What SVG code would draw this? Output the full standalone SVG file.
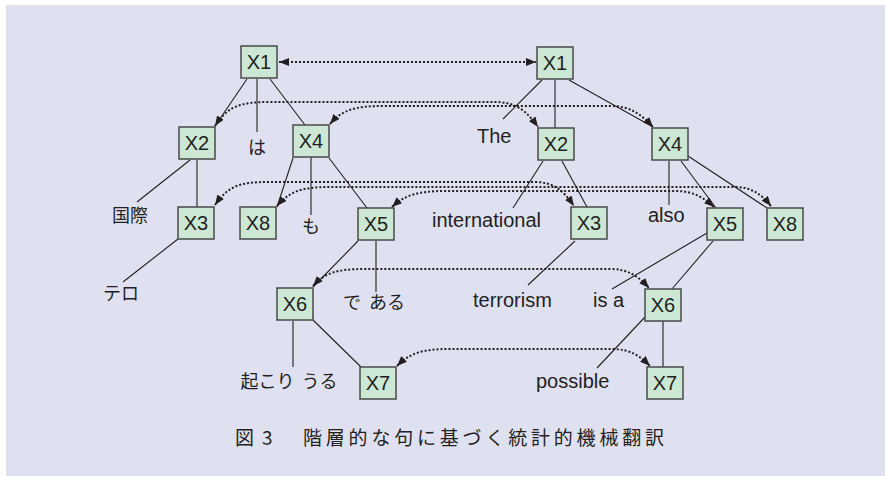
<svg xmlns="http://www.w3.org/2000/svg" width="885" height="477" viewBox="0 0 885 477">
<defs>
<marker id="ah" viewBox="0 0 10 8" refX="10" refY="4" markerWidth="10" markerHeight="8" markerUnits="userSpaceOnUse" orient="auto-start-reverse">
<path d="M0,0 L10,4 L0,8 Z" fill="#231f20"/>
</marker>
<style>
.bg{fill:#e0e1f0}
.box rect{fill:#cce7d4;stroke:#4a4a4a;stroke-width:1.5}
.box text{font-family:"Liberation Sans",Arial,sans-serif;font-size:20px;fill:#231f20;text-anchor:middle}
.ln{stroke:#231f20;stroke-width:1.1;fill:none}
.dt{stroke:#231f20;stroke-width:2;stroke-dasharray:2 2;fill:none;marker-start:url(#ah);marker-end:url(#ah)}
.en{font-family:"Liberation Sans",Arial,sans-serif;font-size:20px;fill:#231f20}
.ja{font-family:"Noto Sans CJK JP","Noto Sans",sans-serif;font-size:18px;fill:#231f20;text-anchor:middle}
.cap{font-family:"Noto Sans CJK JP","Noto Sans",sans-serif;font-size:19px;fill:#231f20}
</style>
</defs>
<rect class="bg" x="6" y="5" width="879" height="471"/>

<g id="connectors">
<g id="tree-lines">
<line class="ln" x1="247" y1="79" x2="215" y2="126"/>
<line class="ln" x1="257" y1="79" x2="257" y2="132"/>
<line class="ln" x1="270" y1="79" x2="305" y2="125"/>
<line class="ln" x1="190" y1="160" x2="137" y2="202"/>
<line class="ln" x1="197" y1="160" x2="197" y2="207"/>
<line class="ln" x1="178" y1="239" x2="123" y2="282"/>
<line class="ln" x1="293" y1="158" x2="277" y2="207"/>
<line class="ln" x1="311" y1="157" x2="311" y2="215"/>
<line class="ln" x1="329" y1="158" x2="367" y2="208"/>
<line class="ln" x1="358" y1="241" x2="313" y2="287"/>
<line class="ln" x1="376" y1="241" x2="376" y2="292"/>
<line class="ln" x1="293" y1="321" x2="293" y2="367"/>
<line class="ln" x1="313" y1="320" x2="361" y2="367"/>
<line class="ln" x1="542" y1="80" x2="503" y2="119"/>
<line class="ln" x1="555" y1="80" x2="555" y2="128"/>
<line class="ln" x1="569" y1="80" x2="653" y2="127"/>
<line class="ln" x1="543" y1="161" x2="513" y2="208"/>
<line class="ln" x1="562" y1="161" x2="587" y2="207"/>
<line class="ln" x1="575" y1="241" x2="528" y2="285"/>
<line class="ln" x1="669" y1="161" x2="669" y2="205"/>
<line class="ln" x1="681" y1="161" x2="716" y2="208"/>
<line class="ln" x1="688" y1="156" x2="767" y2="208"/>
<line class="ln" x1="707" y1="233" x2="612" y2="289"/>
<line class="ln" x1="713" y1="241" x2="672" y2="289"/>
<line class="ln" x1="645" y1="317" x2="597" y2="368"/>
<line class="ln" x1="663" y1="321" x2="663" y2="367"/>
</g>
<g id="alignments">
<path class="dt" d="M279,62 L536,62"/>
<path class="dt" d="M215,126 C228,106 240,102 270,102 L495,102 C515,102 526,110 538,127"/>
<path class="dt" d="M330,124 C343,109 356,106 385,106 L610,106 C630,106 641,114 653,127"/>
<path class="dt" d="M215,205 C228,186 240,182 268,182 L535,182 C553,182 563,190 574,206"/>
<path class="dt" d="M277,206 C290,191 302,187 330,187 L735,187 C752,187 762,195 771,206"/>
<path class="dt" d="M392,207 C405,195 418,191 445,191 L675,191 C694,191 704,198 714,207"/>
<path class="dt" d="M313,286 C325,273 336,269 365,269 L610,269 C628,269 638,276 649,288"/>
<path class="dt" d="M397,366 C410,353 422,349 450,349 L612,349 C630,349 640,356 650,366"/>
</g>
</g>

<g id="X1L" class="box"><rect x="241" y="46" width="36" height="32"/><text x="259" y="69">X1</text></g>
<g id="X2L" class="box"><rect x="179" y="127" width="36" height="32"/><text x="197" y="150">X2</text></g>
<g id="X4L" class="box"><rect x="293" y="125" width="36" height="32"/><text x="311" y="148">X4</text></g>
<g id="X3L" class="box"><rect x="178" y="207" width="36" height="32"/><text x="196" y="230">X3</text></g>
<g id="X8L" class="box"><rect x="240" y="207" width="36" height="32"/><text x="258" y="230">X8</text></g>
<g id="X5L" class="box"><rect x="358" y="208" width="36" height="32"/><text x="376" y="231">X5</text></g>
<g id="X6L" class="box"><rect x="277" y="288" width="36" height="32"/><text x="295" y="311">X6</text></g>
<g id="X7L" class="box"><rect x="360" y="367" width="36" height="32"/><text x="378" y="390">X7</text></g>

<g id="X1R" class="box"><rect x="537" y="47" width="36" height="32"/><text x="555" y="70">X1</text></g>
<g id="X2R" class="box"><rect x="538" y="128" width="36" height="32"/><text x="556" y="151">X2</text></g>
<g id="X4R" class="box"><rect x="652" y="128" width="36" height="32"/><text x="670" y="151">X4</text></g>
<g id="X3R" class="box"><rect x="571" y="207" width="36" height="32"/><text x="589" y="230">X3</text></g>
<g id="X5R" class="box"><rect x="707" y="208" width="36" height="32"/><text x="725" y="231">X5</text></g>
<g id="X8R" class="box"><rect x="767" y="208" width="36" height="32"/><text x="785" y="231">X8</text></g>
<g id="X6R" class="box"><rect x="645" y="289" width="36" height="32"/><text x="663" y="312">X6</text></g>
<g id="X7R" class="box"><rect x="647" y="367" width="36" height="32"/><text x="665" y="390">X7</text></g>

<g id="words-ja">
<text class="ja" x="257" y="154">は</text>
<text class="ja" x="130" y="222">国際</text>
<text class="ja" x="121" y="300">テロ</text>
<text class="ja" x="311" y="233">も</text>
<text class="ja" x="374" y="309" word-spacing="4">で ある</text>
<text class="ja" x="289" y="388" word-spacing="3">起こり うる</text>
</g>
<g id="words-en">
<text class="en" x="477" y="143">The</text>
<text class="en" x="432" y="227">international</text>
<text class="en" x="648" y="222">also</text>
<text class="en" x="473" y="307">terrorism</text>
<text class="en" x="593" y="307">is a</text>
<text class="en" x="536" y="388">possible</text>
</g>
<text class="cap" x="235" y="445">図 <tspan x="262">3 </tspan><tspan x="303" letter-spacing="3.8">階層的な句に基づく統計的機械翻訳</tspan></text>
</svg>
